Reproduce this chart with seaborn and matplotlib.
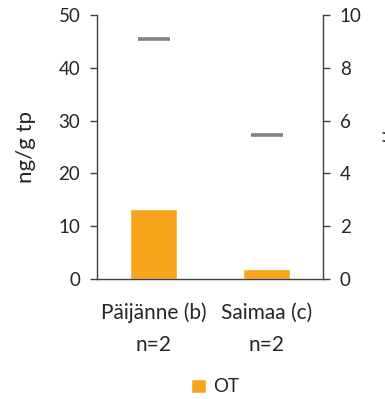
import numpy as np
import pandas as pd
import matplotlib
matplotlib.use('Agg')
import matplotlib.pyplot as plt
import seaborn as sns

sns.set_style('white')
plt.rcParams['font.family'] = ['Lato', 'DejaVu Sans']

lakes = ['Päijänne (b)\nn=2', 'Saimaa (c)\nn=2']
ot = [13.2, 1.9]          # ng/g tp, left axis
right_vals = [9.08, 5.45]  # right axis

orange = '#F8A51D'
grey = '#808085'
spine_c = '#404040'

fig = plt.figure(figsize=(3.85, 3.99), dpi=100)
ax = fig.add_axes([97/385, 1 - 279/399, 226/385, 264/399])

df = pd.DataFrame({'lake': lakes, 'OT': ot})
sns.barplot(data=df, x='lake', y='OT', color=orange, width=0.41, ax=ax,
            label='OT', saturation=1)
h, l = ax.get_legend_handles_labels()
if ax.get_legend() is not None:
    ax.get_legend().remove()
ax.set_xlim(-0.5, 1.5)
ax.set_ylim(0, 50)
ax.set_yticks([0, 10, 20, 30, 40, 50])
ax.set_xlabel('')
ax.set_ylabel('ng/g tp', fontsize=16, labelpad=16)
ax.tick_params(axis='y', labelsize=13.5, length=5, width=1, color=spine_c, direction='out', left=True, pad=7)
ax.tick_params(axis='x', labelsize=15, length=0, pad=17)
for lbl in ax.get_xticklabels():
    lbl.set_linespacing(1.75)
for s in ['top', 'right']:
    ax.spines[s].set_visible(False)
for s in ['left', 'bottom']:
    ax.spines[s].set_color(spine_c)
    ax.spines[s].set_linewidth(1)

ax2 = ax.twinx()
sns.scatterplot(x=np.arange(len(lakes)), y=right_vals, marker='_', s=560,
                linewidth=2.6, color=grey, ax=ax2, legend=False)
ax2.set_ylim(0, 10)
ax2.set_yticks([0, 2, 4, 6, 8, 10])
ax2.tick_params(axis='y', labelsize=13.5, length=5, width=1, color=spine_c, direction='out', right=True, pad=7)
for s in ['top', 'left', 'bottom']:
    ax2.spines[s].set_visible(False)
ax2.spines['right'].set_color(spine_c)
ax2.spines['right'].set_linewidth(1)
ax2.set_ylabel('vuotta', fontsize=16, labelpad=14.5)

fig.legend(h, l, loc='center', bbox_to_anchor=(215/385, 1 - 387/399), frameon=False,
           fontsize=13.5, handlelength=0.8, handleheight=0.8, handletextpad=0.4)

fig.savefig('out.png', dpi=100)
